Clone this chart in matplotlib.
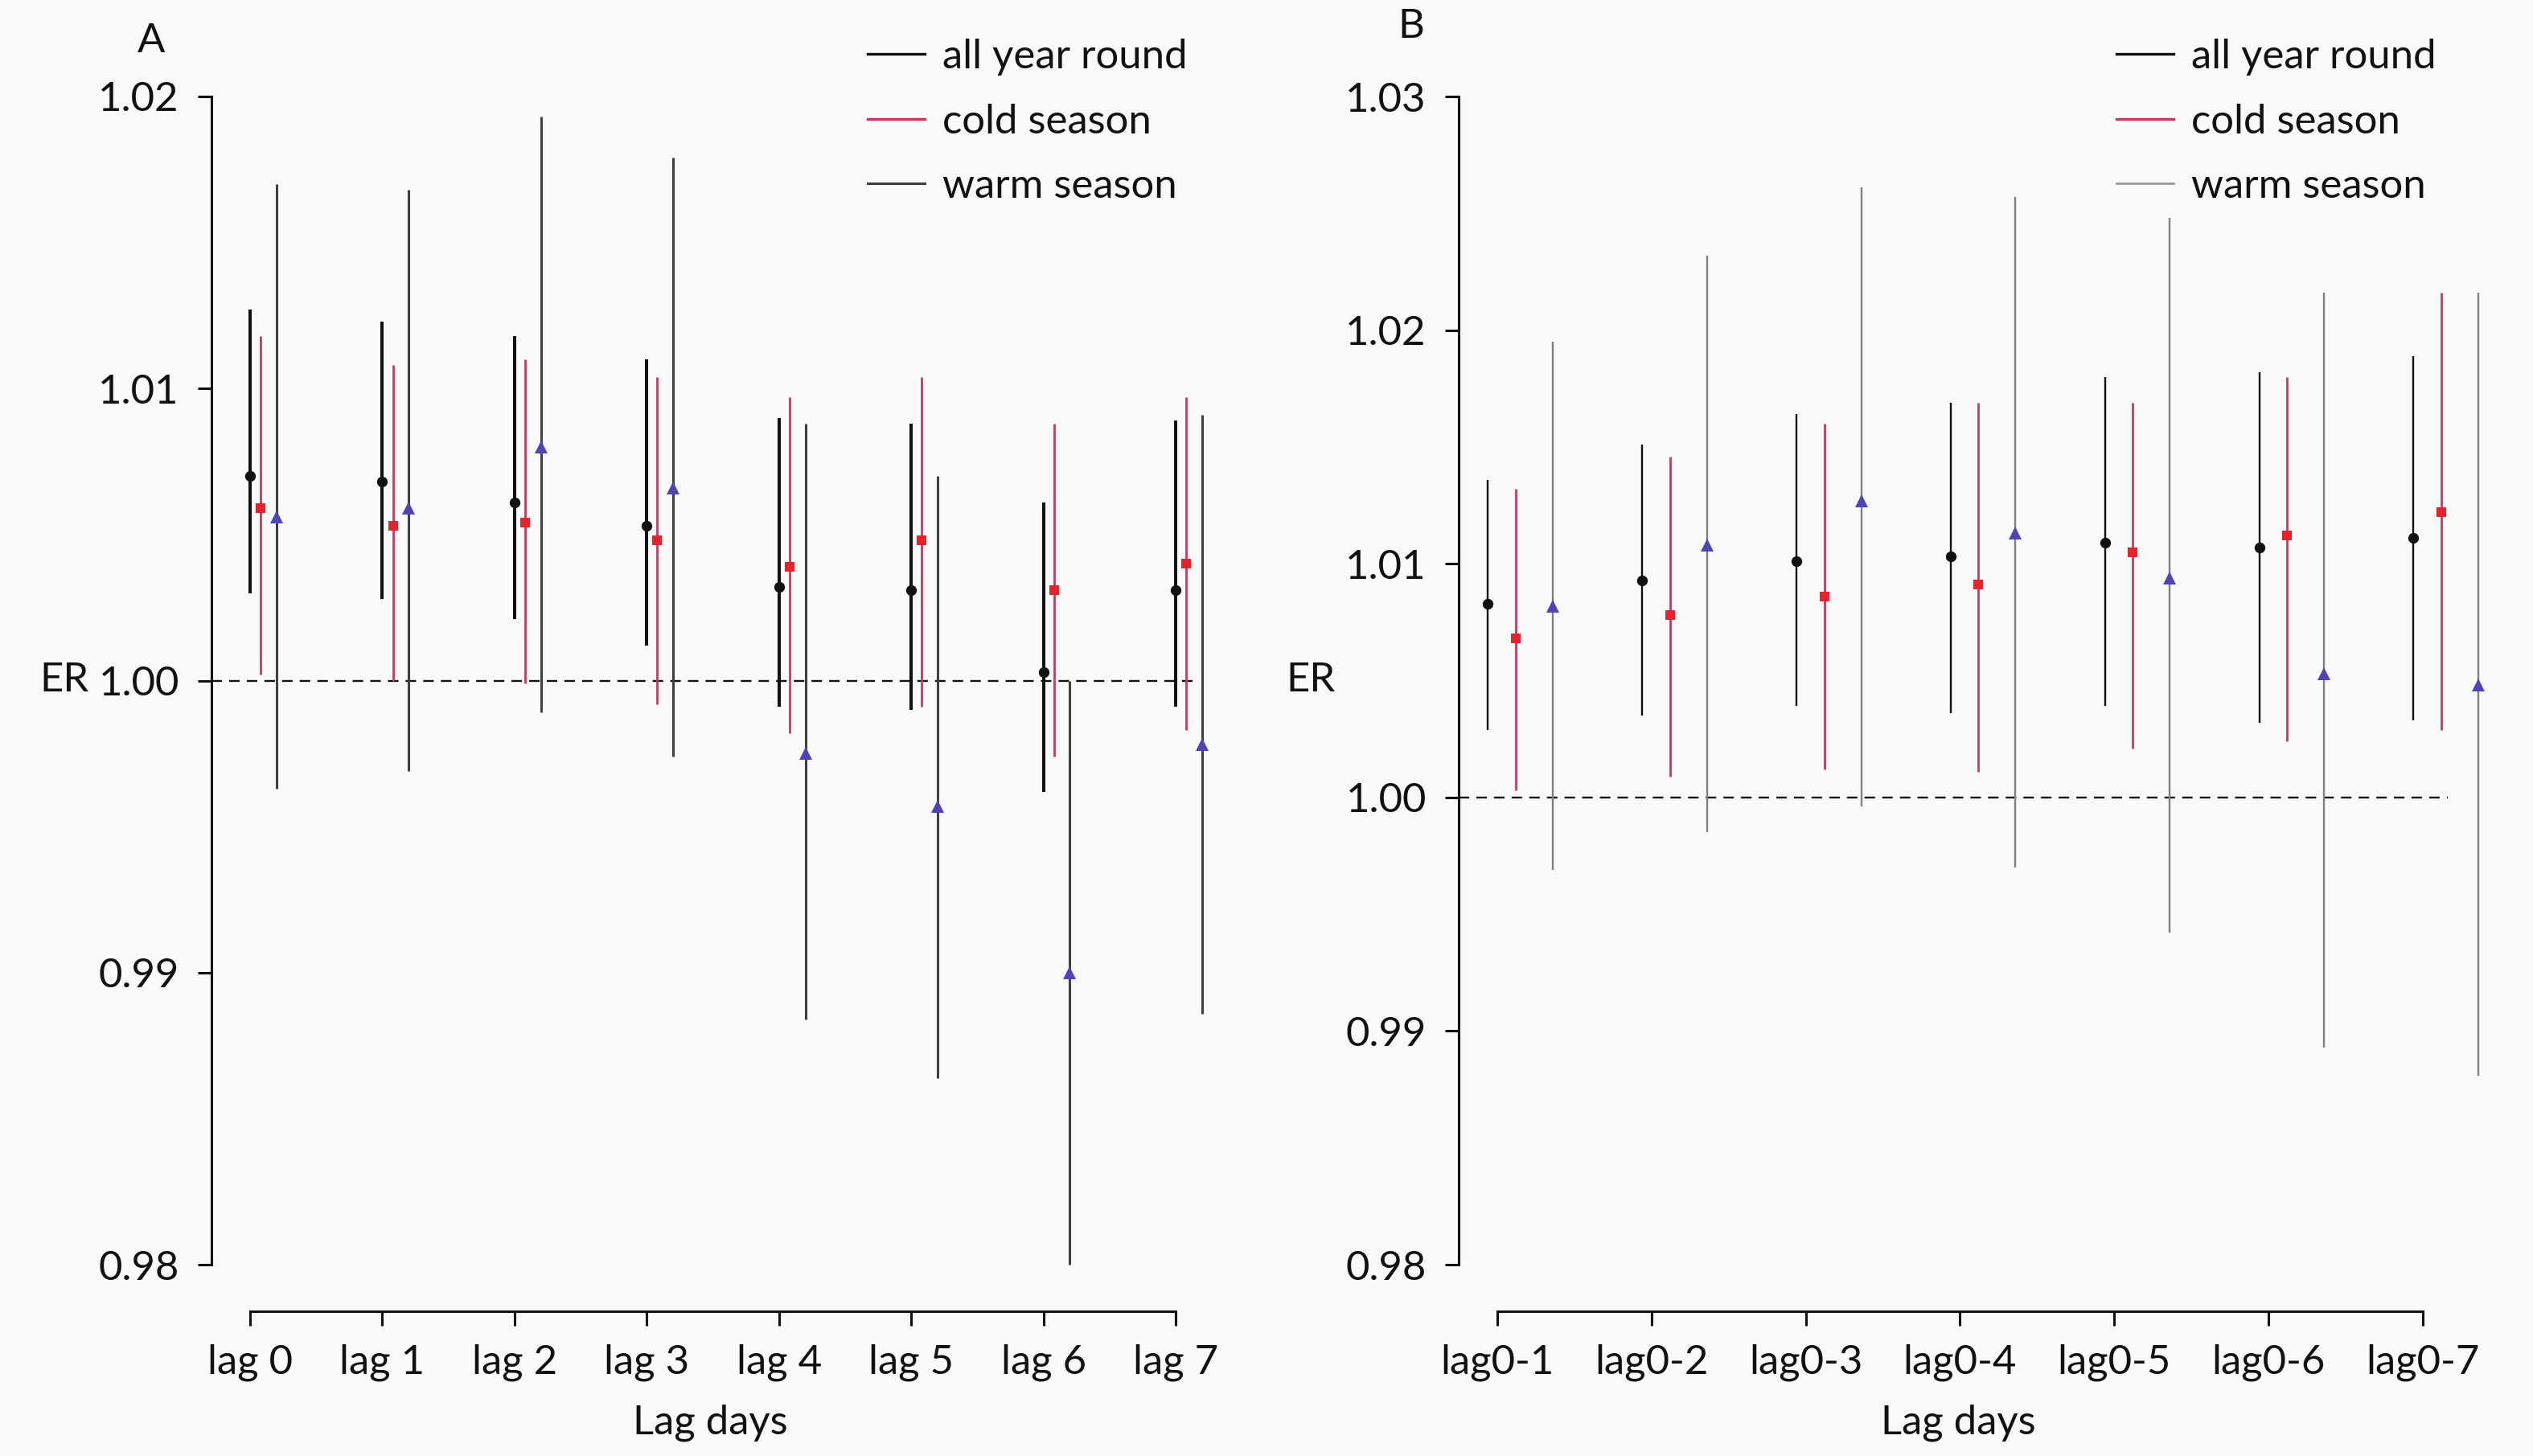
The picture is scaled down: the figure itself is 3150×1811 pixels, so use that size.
import matplotlib
matplotlib.use("Agg")
import matplotlib.pyplot as plt
from matplotlib.lines import Line2D
import numpy as np

plt.rcParams['font.family'] = ['Lato', 'DejaVu Sans']
plt.rcParams['lines.scale_dashes'] = False

# ---------------- Data ----------------
lags_A = ["lag 0", "lag 1", "lag 2", "lag 3", "lag 4", "lag 5", "lag 6", "lag 7"]
all_A    = [1.0070, 1.0068, 1.0061, 1.0053, 1.0032, 1.0031, 1.0003, 1.0031]
all_A_lo = [1.0030, 1.0028, 1.0021, 1.0012, 0.9991, 0.9990, 0.9962, 0.9991]
all_A_hi = [1.0127, 1.0123, 1.0118, 1.0110, 1.0090, 1.0088, 1.0061, 1.0089]
cold_A    = [1.0059, 1.0053, 1.0054, 1.0048, 1.0039, 1.0048, 1.0031, 1.0040]
cold_A_lo = [1.0002, 1.0000, 0.9999, 0.9992, 0.9982, 0.9991, 0.9974, 0.9983]
cold_A_hi = [1.0118, 1.0108, 1.0110, 1.0104, 1.0097, 1.0104, 1.0088, 1.0097]
warm_A    = [1.0056, 1.0059, 1.0080, 1.0066, 0.9975, 0.9957, 0.9900, 0.9978]
warm_A_lo = [0.9963, 0.9969, 0.9989, 0.9974, 0.9884, 0.9864, 0.9800, 0.9886]
warm_A_hi = [1.0170, 1.0168, 1.0193, 1.0179, 1.0088, 1.0070, 1.0000, 1.0091]

lags_B = ["lag0-1", "lag0-2", "lag0-3", "lag0-4", "lag0-5", "lag0-6", "lag0-7"]
all_B    = [1.0083, 1.0093, 1.0101, 1.0103, 1.0109, 1.0107, 1.0111]
all_B_lo = [1.0029, 1.0035, 1.0039, 1.0036, 1.0039, 1.0032, 1.0033]
all_B_hi = [1.0136, 1.0151, 1.0164, 1.0169, 1.0180, 1.0182, 1.0189]
cold_B    = [1.0068, 1.0078, 1.0086, 1.0091, 1.0105, 1.0112, 1.0122]
cold_B_lo = [1.0003, 1.0009, 1.0012, 1.0011, 1.0021, 1.0024, 1.0029]
cold_B_hi = [1.0132, 1.0146, 1.0160, 1.0169, 1.0169, 1.0180, 1.0216]
warm_B    = [1.0082, 1.0108, 1.0127, 1.0113, 1.0094, 1.0053, 1.0048]
warm_B_lo = [0.9969, 0.9985, 0.9996, 0.9970, 0.9942, 0.9893, 0.9881]
warm_B_hi = [1.0195, 1.0232, 1.0261, 1.0257, 1.0248, 1.0216, 1.0216]

yticks_A = [0.98, 0.99, 1.00, 1.01, 1.02]
yticks_B = [0.98, 0.99, 1.00, 1.01, 1.02, 1.03]
series_labels = ["all year round", "cold season", "warm season"]

# ---------------- Style ----------------
BG = '#f9f9f9'
W, H = 3150, 1811
DPI = 200
FS = 18.3
black = '#111111'
cold_line = '#c8385f'
cold_mark = '#e8212b'
tri_col = '#4c44b8'

fig = plt.figure(figsize=(W / DPI, H / DPI), dpi=DPI, facecolor=BG)


def make_axes(x0, x1, y0=120, y1=1573):
    return fig.add_axes([x0 / W, 1 - y1 / H, (x1 - x0) / W, (y1 - y0) / H], facecolor=BG)


def draw_panel(ax, labels, data, offsets, widths, warm_col, yticks, xlim):
    x = np.arange(len(labels))
    markers = [('o', black, 4.8), ('s', cold_mark, 4.4), ('^', tri_col, 5.6)]
    line_cols = [black, cold_line, warm_col]
    for (vals, lo, hi), off, lw, lc, (m, mc, ms) in zip(data, offsets, widths, line_cols, markers):
        v = np.array(vals); l = np.array(lo); h = np.array(hi)
        xx = x + off
        ax.vlines(xx, l, h, colors=lc, linewidth=lw, zorder=2, clip_on=False)
        ax.plot(xx, v, linestyle='none', marker=m, color=mc, markersize=ms,
                markeredgewidth=0, zorder=3, clip_on=False)
    ax.axhline(1.0, color=black, linewidth=0.85, dashes=(4.7, 3.2), zorder=1)
    ax.set_xlim(*xlim)
    ax.set_ylim(yticks[0], yticks[-1])
    ax.set_yticks(yticks)
    ax.set_yticklabels([f"{t:.2f}" for t in yticks])
    ax.set_xticks(x)
    ax.set_xticklabels(labels)
    for s in ['top', 'right']:
        ax.spines[s].set_visible(False)
    ax.spines['bottom'].set_position(('outward', 20.9))
    ax.spines['bottom'].set_bounds(0, len(labels) - 1)
    ax.spines['left'].set_bounds(yticks[0], yticks[-1])
    for s in ['left', 'bottom']:
        ax.spines[s].set_linewidth(1.1)
        ax.spines[s].set_color(black)
    ax.tick_params(axis='y', length=6, width=1.1, pad=8.5, labelsize=FS, colors=black)
    ax.tick_params(axis='x', length=6.5, width=1.1, pad=8, labelsize=FS, colors=black)
    ax.set_ylabel('ER', rotation=0, ha='right', va='center', fontsize=FS, color=black)
    ax.yaxis.set_label_coords(-0.125, 0.5)
    ax.set_xlabel('Lag days', fontsize=FS, color=black, va='center')
    return ax


axA = make_axes(263, 1487)
draw_panel(axA, lags_A,
           [(all_A, all_A_lo, all_A_hi), (cold_A, cold_A_lo, cold_A_hi), (warm_A, warm_A_lo, warm_A_hi)],
           [0.0, 0.08, 0.2], [1.45, 1.0, 1.1], '#404040', yticks_A, (-0.292, 7.152))
axA.xaxis.set_label_coords(0.507, -0.1356)

axB = make_axes(1814, 3044)
draw_panel(axB, lags_B,
           [(all_B, all_B_lo, all_B_hi), (cold_B, cold_B_lo, cold_B_hi), (warm_B, warm_B_lo, warm_B_hi)],
           [-0.06, 0.12, 0.36], [0.85, 1.0, 0.85], '#808080', yticks_B, (-0.25, 6.162))
axB.xaxis.set_label_coords(0.505, -0.1356)


def legend(x_px, warm_col, lws):
    handles = [Line2D([], [], color=c, linewidth=lw)
               for c, lw in zip([black, cold_line, warm_col], lws)]
    fig.legend(handles, series_labels, loc='upper left',
               bbox_to_anchor=(x_px / W, 1 - 48 / H), frameon=False, fontsize=FS,
               handlelength=1.4, handletextpad=0.42, labelspacing=0.68,
               borderpad=0, borderaxespad=0, labelcolor=black)


legend(1079, '#404040', [1.2, 1.2, 1.1])
legend(2632, '#909090', [1.2, 1.2, 0.9])

fig.text(188 / W, 1 - 51 / H, 'A', fontsize=FS, ha='center', va='center', color=black)
fig.text(1755 / W, 1 - 33 / H, 'B', fontsize=FS, ha='center', va='center', color=black)

fig.savefig('out.png', dpi=DPI, facecolor=BG)
